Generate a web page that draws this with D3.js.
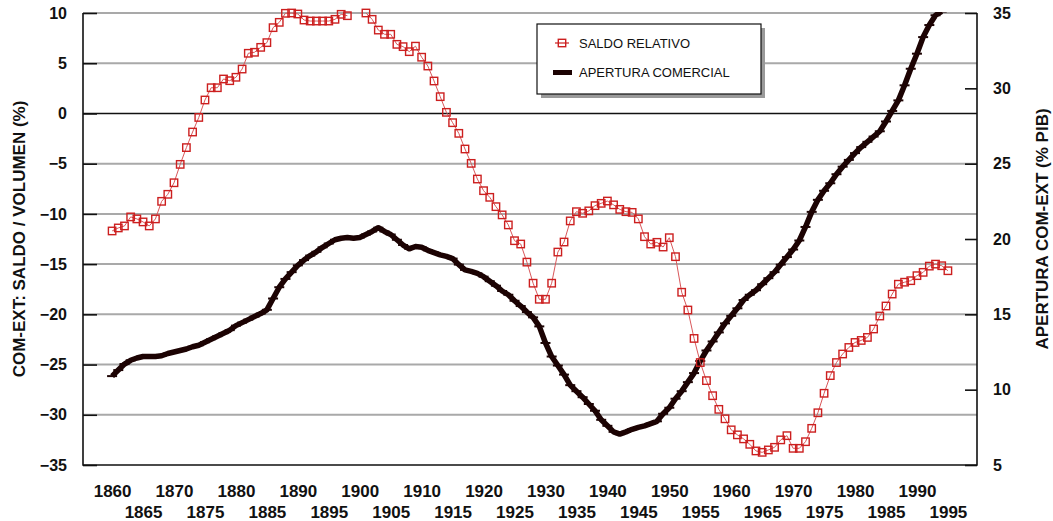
<!DOCTYPE html>
<html>
<head>
<meta charset="utf-8">
<script src="https://cdn.jsdelivr.net/npm/d3@7"></script>
<style>
  body { margin: 0; background: #fff; }
  svg { display: block; font-family: "Liberation Sans", Arial, sans-serif; }
</style>
</head>
<body>
<div id="chart"></div>
<script>
// saldo relativo (% of volume), one value a year from 1860, null = no data
const saldoStart = 1860;
const saldo = [
  -11.7, -11.4, -11.2, -10.3, -10.5, -10.8, -11.2, -10.5, -8.75, -8.05,
  -6.9, -5.07, -3.4, -1.85, -0.4, 1.34, 2.56, 2.56, 3.43, 3.26,
  3.6, 4.42, 5.99, 6.09, 6.58, 7.05, 8.54, 9.07, 9.97, 10.0,
  9.9, 9.3, 9.2, 9.2, 9.2, 9.2, 9.37, 9.87, 9.73, null,
  null, 10.0, 9.37, 8.3, 7.88, 7.88, 6.88, 6.65, 6.15, 6.7,
  5.6, 4.72, 3.23, 1.67, 0.11, -0.92, -1.98, -3.54, -4.97, -6.53,
  -7.69, -8.35, -9.28, -10.1, -11.1, -12.67, -13.0, -14.8, -16.9, -18.5,
  -18.5, -16.9, -13.8, -12.8, -10.7, -9.78, -9.94, -9.7, -9.18, -8.95,
  -8.72, -9.1, -9.55, -9.78, -9.85, -10.5, -12.27, -13.0, -12.83, -13.3,
  -12.37, -14.26, -17.8, -19.57, -22.4, -24.8, -26.6, -28.1, -29.46, -30.4,
  -31.5, -32.0, -32.4, -32.94, -33.6, -33.74, -33.5, -33.24, -32.5, -32.08,
  -33.34, -33.34, -32.68, -31.35, -29.8, -27.86, -26.1, -24.8, -23.95, -23.3,
  -22.8, -22.6, -22.3, -21.46, -20.17, -19.17, -17.98, -17.0, -16.8, -16.65,
  -16.15, -15.82, -15.2, -15.0, -15.16, -15.66
];

// apertura comercial (% PIB), one value a year from 1860
const aperturaStart = 1860;
const apertura = [
  10.9, 11.3, 11.7, 11.95, 12.1, 12.2, 12.2, 12.2, 12.25, 12.4,
  12.5, 12.6, 12.7, 12.85, 12.95, 13.15, 13.35, 13.55, 13.75, 13.95,
  14.25, 14.45, 14.65, 14.85, 15.05, 15.3, 16.05, 16.8, 17.35, 17.8,
  18.25, 18.6, 18.9, 19.15, 19.45, 19.7, 19.95, 20.05, 20.1, 20.05,
  20.1, 20.3, 20.5, 20.75, 20.5, 20.3, 19.95, 19.6, 19.35, 19.5,
  19.45, 19.25, 19.1, 18.95, 18.85, 18.7, 18.3, 17.95, 17.85, 17.72,
  17.5, 17.2, 16.9, 16.55, 16.3, 15.9, 15.55, 15.15, 14.8, 14.2,
  13.1, 12.2, 11.6, 11.0, 10.3, 9.9, 9.5, 9.05, 8.6, 8.0,
  7.6, 7.2, 7.05, 7.2, 7.37, 7.5, 7.6, 7.75, 7.9, 8.4,
  8.8, 9.4, 9.9, 10.5, 11.1, 11.9, 12.6, 13.2, 13.8, 14.4,
  14.9, 15.4, 15.95, 16.3, 16.6, 17.0, 17.4, 17.8, 18.3, 18.8,
  19.3, 19.9, 20.8, 21.8, 22.6, 23.2, 23.7, 24.3, 24.8, 25.25,
  25.7, 26.1, 26.45, 26.8, 27.15, 27.8, 28.5, 29.2, 30.2, 31.3,
  32.3, 33.4, 34.2, 34.85, 35.1
];

const yearTicksTop = [1860, 1870, 1880, 1890, 1900, 1910, 1920, 1930, 1940, 1950, 1960, 1970, 1980, 1990];
const yearTicksBottom = [1865, 1875, 1885, 1895, 1905, 1915, 1925, 1935, 1945, 1955, 1965, 1975, 1985, 1995];
const leftTicks = [10, 5, 0, -5, -10, -15, -20, -25, -30, -35];
const rightTicks = [35, 30, 25, 20, 15, 10, 5];
const legendLabels = ["SALDO RELATIVO", "APERTURA COMERCIAL"];
const leftTitle = "COM-EXT: SALDO / VOLUMEN (%)";
const rightTitle = "APERTURA COM-EXT (% PIB)";

const W = 1053, H = 521;
const plot = { left: 83, right: 977, top: 13, bottom: 465 };
const red = "#cc1f1f";
const dark = "#1c0303";

const svg = d3.select("#chart").append("svg").attr("width", W).attr("height", H);

const x = d3.scaleLinear().domain([1855.3, 1999.7]).range([plot.left, plot.right]);
const yL = d3.scaleLinear().domain([-35, 10]).range([plot.bottom, plot.top]);
const yR = d3.scaleLinear().domain([5, 35]).range([plot.bottom, plot.top]);

svg.append("clipPath").attr("id", "clip")
  .append("rect")
  .attr("x", plot.left).attr("y", plot.top - 1)
  .attr("width", plot.right - plot.left).attr("height", plot.bottom - plot.top + 1);

// gridlines
svg.append("g").selectAll("line")
  .data(leftTicks.filter(d => d > -35))
  .join("line")
  .attr("x1", plot.left).attr("x2", plot.right)
  .attr("y1", d => yL(d)).attr("y2", d => yL(d))
  .attr("stroke", d => d === 0 ? "#111" : "#a9a9a9")
  .attr("stroke-width", d => d === 0 ? 1.6 : 2);

// left axis
const gl = svg.append("g")
  .attr("transform", `translate(${plot.left},0)`)
  .call(d3.axisLeft(yL).tickValues(leftTicks).tickSize(-14).tickPadding(16).tickFormat(d3.format("d")));
gl.select(".domain").remove();
gl.selectAll(".tick line").attr("stroke", "#111").attr("stroke-width", 1.6);
gl.selectAll("text").style("font-size", "16px").style("font-weight", "bold").attr("fill", "#111");

// right axis
const gr = svg.append("g")
  .attr("transform", `translate(${plot.right},0)`)
  .call(d3.axisRight(yR).tickValues(rightTicks).tickSize(-12).tickPadding(16).tickFormat(d3.format("d")));
gr.select(".domain").remove();
gr.selectAll(".tick line").attr("stroke", "#111").attr("stroke-width", 1.6);
gr.selectAll("text").style("font-size", "16px").style("font-weight", "bold").attr("fill", "#111");

// x axis, two rows of labels
[[yearTicksTop, 20], [yearTicksBottom, 41]].forEach(([vals, pad]) => {
  const g = svg.append("g")
    .attr("transform", `translate(0,${plot.bottom})`)
    .call(d3.axisBottom(x).tickValues(vals).tickSize(0).tickPadding(pad).tickFormat(d3.format("d")));
  g.select(".domain").remove();
  g.selectAll("text").style("font-size", "17px").style("font-weight", "bold").attr("fill", "#111");
});

// frame: left, bottom, right
svg.append("path")
  .attr("d", `M${plot.left},${plot.top}V${plot.bottom}H${plot.right}V${plot.top}`)
  .attr("fill", "none").attr("stroke", "#111").attr("stroke-width", 1.6);

// axis titles
svg.append("text")
  .attr("transform", `translate(19,${(plot.top + plot.bottom) / 2}) rotate(-90)`)
  .attr("text-anchor", "middle").attr("dy", "0.35em")
  .style("font-size", "17px").style("font-weight", "bold").attr("fill", "#111")
  .text(leftTitle);
svg.append("text")
  .attr("transform", `translate(1042,${(plot.top + plot.bottom) / 2 - 10}) rotate(-90)`)
  .attr("text-anchor", "middle").attr("dy", "0.35em")
  .style("font-size", "17px").style("font-weight", "bold").attr("fill", "#111")
  .text(rightTitle);

// apertura comercial line
const aperData = apertura.map((v, i) => ({ year: aperturaStart + i, v }));
const gA = svg.append("g").attr("clip-path", "url(#clip)");
gA.append("path")
  .datum(aperData)
  .attr("fill", "none").attr("stroke", dark).attr("stroke-width", 5.5)
  .attr("stroke-linejoin", "round")
  .attr("d", d3.line().x(d => x(d.year)).y(d => yR(d.v)));
gA.selectAll("line.dash")
  .data(aperData)
  .join("line").attr("class", "dash")
  .attr("x1", d => x(d.year) - 5).attr("x2", d => x(d.year) + 5)
  .attr("y1", d => yR(d.v)).attr("y2", d => yR(d.v))
  .attr("stroke", dark).attr("stroke-width", 2);

// saldo relativo line + squares
const saldoData = saldo.map((v, i) => ({ year: saldoStart + i, v }));
svg.append("path")
  .datum(saldoData)
  .attr("fill", "none").attr("stroke", "#d9575a").attr("stroke-width", 1)
  .attr("d", d3.line().defined(d => d.v !== null).x(d => x(d.year)).y(d => yL(d.v)));
const sq = 7.4;
svg.append("g").selectAll("rect")
  .data(saldoData.filter(d => d.v !== null))
  .join("rect")
  .attr("x", d => x(d.year) - sq / 2).attr("y", d => yL(d.v) - sq / 2)
  .attr("width", sq).attr("height", sq)
  .attr("fill", "none").attr("stroke", red).attr("stroke-width", 1.4);

// legend
const lg = svg.append("g").attr("transform", "translate(537,24)");
lg.append("rect").attr("x", 4).attr("y", 4).attr("width", 224).attr("height", 70).attr("fill", "#9a9a9a");
lg.append("rect").attr("width", 224).attr("height", 70).attr("fill", "#fff").attr("stroke", "#111").attr("stroke-width", 1.2);
lg.append("line").attr("x1", 18).attr("x2", 32).attr("y1", 19).attr("y2", 19).attr("stroke", red).attr("stroke-width", 1.2);
lg.append("rect").attr("x", 25 - sq / 2).attr("y", 19 - sq / 2).attr("width", sq).attr("height", sq)
  .attr("fill", "none").attr("stroke", red).attr("stroke-width", 1.4);
lg.append("rect").attr("x", 16).attr("y", 46).attr("width", 19).attr("height", 5).attr("fill", dark);
lg.selectAll("text.lab")
  .data(legendLabels)
  .join("text").attr("class", "lab")
  .attr("x", 42).attr("y", (d, i) => 19 + i * 29).attr("dy", "0.35em")
  .style("font-size", "13px").attr("fill", "#111")
  .text(d => d);
</script>
</body>
</html>
